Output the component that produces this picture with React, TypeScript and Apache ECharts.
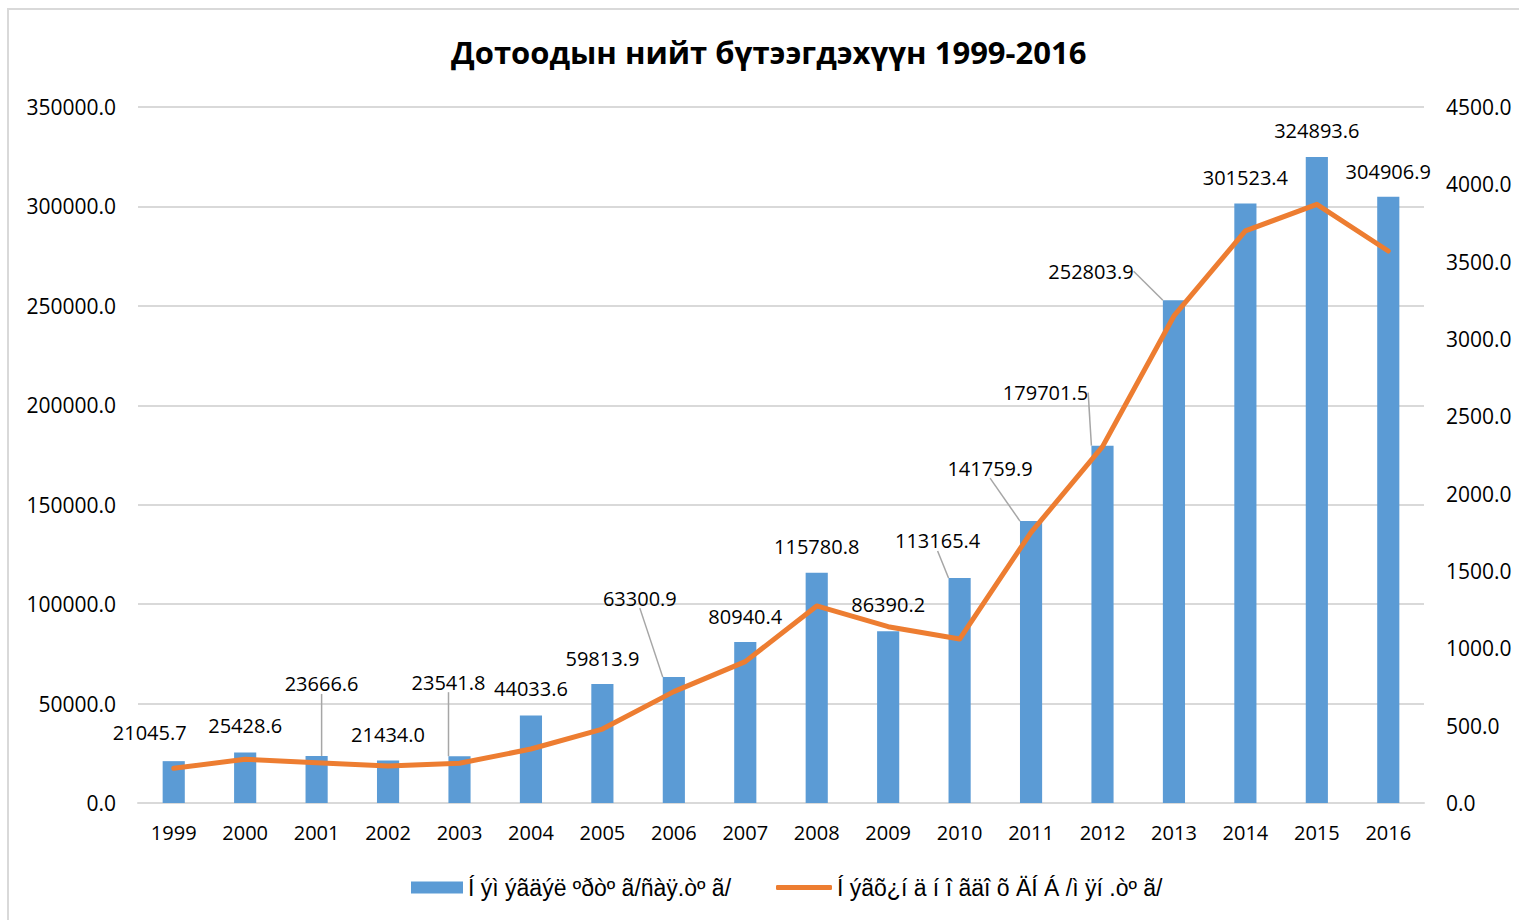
import React, { useEffect, useRef } from "react";
import * as echarts from "echarts";

const years = ["1999","2000","2001","2002","2003","2004","2005","2006","2007","2008","2009","2010","2011","2012","2013","2014","2015","2016"];
const gdpValues = [21045.7, 25428.6, 23666.6, 21434.0, 23541.8, 44033.6, 59813.9, 63300.9, 80940.4, 115780.8, 86390.2, 113165.4, 141759.9, 179701.5, 252803.9, 301523.4, 324893.6, 304906.9];
const perCapita = [224, 283, 261, 239, 257, 349, 478, 720, 914, 1274, 1140, 1060, 1750, 2304, 3149, 3699, 3871, 3569];
const leftTicks = { min: 0, max: 350000, interval: 50000 };
const rightTicks = { min: 0, max: 4500, interval: 500 };
const title = "Дотоодын нийт бүтээгдэхүүн 1999-2016";
const seriesNames = ["Í ýì ýãäýë ºðòº ã/ñàÿ.òº ã/", "Í ýãõ¿í ä í î ãäî õ ÄÍ Á /ì ÿí .òº ã/"];

// label placement tweaks (dx, dy) relative to default top position
const labelDx = [-24, 0, 5, 0, -11, 0, 0, -34, 0, 0, 0, -22, -41, -57, -83, 0, 0, 0];
const labelDy = [-14, -12, -57, -11, -59, -12, -11, -64, -11, -11, -12, -22, -38, -38, -14, -11, -11, -10];
const withLeader = [false, false, true, false, true, false, false, true, false, false, false, true, true, true, true, false, false, false];

const FONT = "'Open Sans', 'Noto Sans', sans-serif";
const LEGEND_FONT = "'Liberation Sans', Arial, sans-serif";

export default function App() {
  const ref = useRef<HTMLDivElement>(null);
  useEffect(() => {
    if (!ref.current) return;
    const chart = echarts.init(ref.current, undefined, { renderer: "svg" });
    chart.setOption({
      animation: false,
      backgroundColor: "#ffffff",
      textStyle: { fontFamily: FONT },
      title: {
        text: title,
        left: 446,
        top: 31,
        textStyle: { fontSize: 31, fontWeight: "bold", color: "#000", fontFamily: FONT },
      },
      graphic: [
        {
          type: "rect",
          shape: { x: 8, y: 9, width: 1700, height: 1000 },
          style: { fill: "none", stroke: "#d9d9d9", lineWidth: 2 },
          silent: true,
          z: -1,
        },
      ],
      grid: { left: 138, right: 95, top: 107, bottom: 117, containLabel: false },
      legend: [
        {
          top: 876,
          left: 411,
          padding: 0,
          itemWidth: 52,
          itemHeight: 12,
          itemGap: 8,
          textStyle: { fontSize: 23, color: "#000", fontFamily: LEGEND_FONT },
          data: [{ name: seriesNames[0], icon: "rect" }],
        },
        {
          top: 876,
          left: 776,
          padding: 0,
          itemWidth: 56,
          itemHeight: 5,
          itemGap: 8,
          textStyle: { fontSize: 23, color: "#000", fontFamily: LEGEND_FONT },
          data: [{ name: seriesNames[1], icon: "roundRect" }],
        },
      ],
      xAxis: {
        type: "category",
        data: years,
        boundaryGap: true,
        axisTick: { show: false },
        axisLine: { lineStyle: { color: "#d9d9d9", width: 2 } },
        axisLabel: { fontSize: 20, color: "#000", margin: 19 },
      },
      yAxis: [
        {
          type: "value",
          ...leftTicks,
          axisLine: { show: false },
          axisTick: { show: false },
          splitLine: { lineStyle: { color: "#d9d9d9", width: 2 } },
          axisLabel: { fontSize: 21, color: "#000", margin: 22, formatter: (v: number) => v.toFixed(1) },
        },
        {
          type: "value",
          ...rightTicks,
          axisLine: { show: false },
          axisTick: { show: false },
          splitLine: { show: false },
          axisLabel: { fontSize: 21, color: "#000", margin: 22, formatter: (v: number) => v.toFixed(1) },
        },
      ],
      series: [
        {
          name: seriesNames[0],
          type: "bar",
          yAxisIndex: 0,
          barWidth: "31%",
          itemStyle: { color: "#5b9bd5" },
          data: gdpValues.map((v, i) => ({
            value: v,
            labelLine: { show: withLeader[i], lineStyle: { color: "#a6a6a6", width: 1.5 } },
          })),
          label: {
            show: true,
            position: "top",
            distance: 5,
            fontSize: 20,
            color: "#000",
            fontFamily: FONT,
            formatter: (p: any) => Number(p.value).toFixed(1),
          },
          labelLayout: (p: any) => ({ dx: labelDx[p.dataIndex], dy: labelDy[p.dataIndex] }),
          labelLine: { show: false, lineStyle: { color: "#a6a6a6", width: 1.5 } },
          z: 2,
        },
        {
          name: seriesNames[1],
          type: "line",
          yAxisIndex: 1,
          data: perCapita,
          symbol: "none",
          lineStyle: { color: "#ed7d31", width: 5, cap: "round", join: "round" },
          itemStyle: { color: "#ed7d31" },
          z: 3,
        },
      ],
    });
    return () => chart.dispose();
  }, []);
  return <div ref={ref} style={{ position: "fixed", left: 0, top: 0, width: 1519, height: 920 }} />;
}
